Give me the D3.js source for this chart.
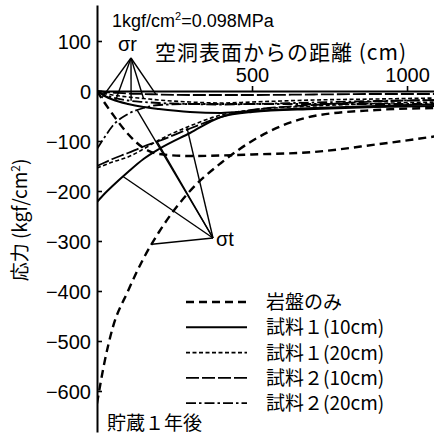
<!DOCTYPE html>
<html>
<head>
<meta charset="utf-8">
<script src="https://cdn.jsdelivr.net/npm/d3@7"></script>
<style>
body { margin: 0; background: #fff; }
svg { display: block; }
text { fill: #000; }
</style>
</head>
<body>
<script>
// distance from cavity surface (cm)
var dist = [0, 25, 50, 100, 150, 200, 300, 400, 500, 700, 900, 1100];

// stress (kgf/cm2), radial (sr) and tangential (st)
var rockSr  = [0, -24, -46, -86, -114, -126, -130, -129, -127, -122, -107, -90];
var rockSt  = [-625, -540, -475, -400, -335, -282, -200, -144, -100, -50, -38, -34];
var s1_10Sr = [0, -10, -17, -26, -32, -36, -42, -44, -40, -34, -30, -26];
var s1_10St = [-222, -205, -190, -162, -136, -116, -84, -52, -42, -36, -32, -30];
var s1_20Sr = [0, -5, -8, -12, -15, -18, -22, -24, -22, -18, -16, -14];
var s1_20St = [-154, -148, -142, -132, -116, -98, -70, -48, -38, -30, -25, -22];
var s2_10Sr = [0, -2, -3, -5, -6, -7, -8, -8, -8, -7, -6, -6];
var s2_10St = [-150, -143, -136, -124, -111, -100, -75, -52, -38, -28, -21, -18];
var s2_20Sr = [0, -8, -13, -19, -22, -24, -26, -27, -26, -23, -20, -18];
var s2_20St = [-116, -92, -70, -46, -34, -28, -26, -26, -26, -26, -26, -26];

var legendNames = ["岩盤のみ", "試料１(10cm)", "試料１(20cm)", "試料２(10cm)", "試料２(20cm)"];
var xTicks = [500, 1000];
var yTicks = [100, 0, -100, -200, -300, -400, -500, -600];

// pointer targets (distance on each curve) for the σr / σt labels
var srTarget = [15, 60, 150, 190, 110];
var stTarget = [177, 84, 290, 194, 130];

var w = 434, h = 438;
var styles = [
  { dash: "8,5", width: 2.4 },
  { dash: null, width: 2 },
  { dash: "4,2.5", width: 1.6 },
  { dash: "13,3", width: 1.8 },
  { dash: "10,3,2.5,3", width: 1.8 }
];
var series = [
  { sr: rockSr, st: rockSt },
  { sr: s1_10Sr, st: s1_10St },
  { sr: s1_20Sr, st: s1_20St },
  { sr: s2_10Sr, st: s2_10St },
  { sr: s2_20Sr, st: s2_20St }
];

var x = d3.scaleLinear().domain([0, 1087]).range([97, 434]);
var y = d3.scaleLinear().domain([172, -682]).range([5, 432]);

var svg = d3.select("body").append("svg")
  .attr("width", w)
  .attr("height", h)
  .style("font-family", "'Liberation Sans', Arial, sans-serif");

svg.append("clipPath").attr("id", "clip")
  .append("rect").attr("x", 97).attr("y", 0).attr("width", 337).attr("height", h);

var line = d3.line()
  .x(function(d, i) { return x(dist[i]); })
  .y(function(d) { return y(d); })
  .curve(d3.curveMonotoneX);

var plot = svg.append("g").attr("clip-path", "url(#clip)");

series.forEach(function(s, k) {
  [s.sr, s.st].forEach(function(vals) {
    plot.append("path")
      .attr("d", line(vals))
      .attr("fill", "none")
      .attr("stroke", "#000")
      .attr("stroke-width", styles[k].width)
      .attr("stroke-dasharray", styles[k].dash);
  });
});

// axes
var yAxis = svg.append("g")
  .attr("transform", "translate(97,0)")
  .call(d3.axisLeft(y).tickValues(yTicks).tickSizeInner(-5).tickSizeOuter(0).tickPadding(6)
    .tickFormat(function(d) { return d < 0 ? "\u2212" + Math.abs(d) : d; }));
var xAxis = svg.append("g")
  .attr("transform", "translate(0," + y(0) + ")")
  .call(d3.axisTop(x).tickValues(xTicks).tickSizeInner(5).tickSizeOuter(0).tickPadding(4)
    .tickFormat(d3.format("d")));

[yAxis, xAxis].forEach(function(a) {
  a.select(".domain").attr("stroke-width", 2);
  a.selectAll(".tick line").attr("stroke-width", 1.6);
  a.selectAll(".tick text").attr("font-size", 20).attr("fill", "#000");
});
yAxis.selectAll(".tick text").attr("dy", "0.36em");

function interp(vals, d) {
  return d3.scaleLinear().domain(dist).range(vals)(d);
}

// σr pointers
var srOrigin = [131, 58];
series.forEach(function(s, k) {
  svg.append("line")
    .attr("x1", srOrigin[0]).attr("y1", srOrigin[1])
    .attr("x2", x(srTarget[k])).attr("y2", y(interp(s.sr, srTarget[k])))
    .attr("stroke", "#000").attr("stroke-width", 1.4);
});
var stOrigin = [213, 238];
series.forEach(function(s, k) {
  svg.append("line")
    .attr("x1", stOrigin[0]).attr("y1", stOrigin[1])
    .attr("x2", x(stTarget[k])).attr("y2", y(interp(s.st, stTarget[k])))
    .attr("stroke", "#000").attr("stroke-width", 1.4);
});

svg.append("text").attr("x", 118).attr("y", 51).attr("font-size", 20).text("σr");
svg.append("text").attr("x", 216).attr("y", 246).attr("font-size", 20).text("σt");

// notes and titles
var note = svg.append("text").attr("x", 112).attr("y", 27).attr("font-size", 18);
note.append("tspan").text("1kgf/cm");
note.append("tspan").attr("font-size", 11).attr("dy", -7).text("2");
note.append("tspan").attr("dy", 7).text("=0.098MPa");

var cjk = "'Noto Sans CJK JP', 'Liberation Sans', sans-serif";
svg.append("text").attr("x", 155).attr("y", 60).attr("font-size", 21)
  .attr("letter-spacing", 1).style("font-family", cjk)
  .text("空洞表面からの距離 (cm)");

var yl = svg.append("text")
  .attr("transform", "translate(27,220) rotate(-90)")
  .attr("text-anchor", "middle").attr("font-size", 19).style("font-family", cjk);
yl.append("tspan").text("応力 (kgf/cm");
yl.append("tspan").attr("font-size", 12).attr("dy", -7).text("2");
yl.append("tspan").attr("dy", 7).text(")");

svg.append("text").attr("x", 107).attr("y", 430).attr("font-size", 19)
  .style("font-family", cjk).text("貯蔵１年後");

// legend
var legend = svg.append("g");
legendNames.forEach(function(name, k) {
  var ly = 302 + k * 25.3;
  legend.append("line")
    .attr("x1", 186).attr("x2", 247).attr("y1", ly).attr("y2", ly)
    .attr("stroke", "#000").attr("stroke-width", styles[k].width)
    .attr("stroke-dasharray", styles[k].dash);
  legend.append("text").attr("x", 266).attr("y", ly + 7).attr("font-size", 19)
    .style("font-family", cjk).text(name);
});
</script>
</body>
</html>
